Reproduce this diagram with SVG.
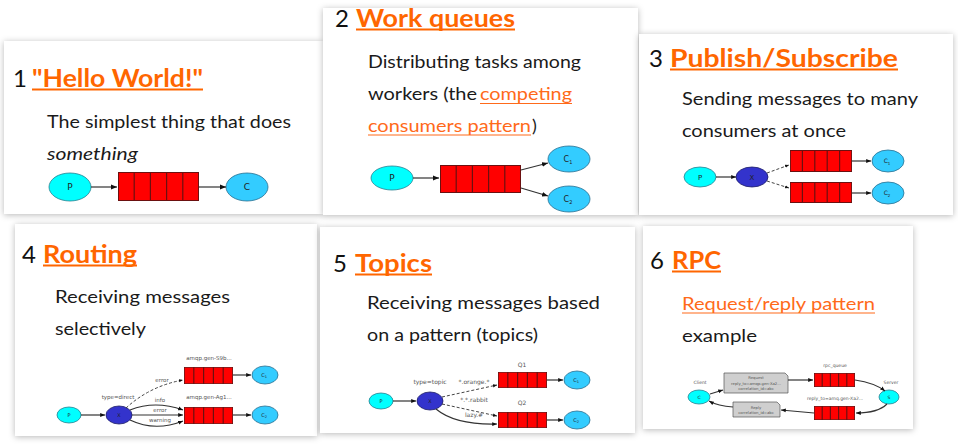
<svg xmlns="http://www.w3.org/2000/svg" width="958" height="448" viewBox="0 0 958 448">
<style>
.card{fill:#fff}
.num{font-family:Lato,"Open Sans",sans-serif;font-size:24px;fill:#111}
.title{font-family:Lato,"Open Sans",sans-serif;font-size:25px;font-weight:bold;fill:#ff6600}
.ul{fill:#ff6600}
.body{font-family:Lato,"Open Sans",sans-serif;font-size:18px;fill:#1a1a1a}
.link{fill:#ff6a1a}
.nl{font-family:"DejaVu Sans",sans-serif;fill:#222;text-anchor:middle}
.tiny{font-family:"DejaVu Sans",sans-serif;fill:#555;text-anchor:middle}
.p{fill:#00ffff;stroke:#2a7f8f;stroke-width:0.8}
.c{fill:#33ccff;stroke:#2a6f8f;stroke-width:0.8}
.x{fill:#3333cc;stroke:#1a1a66;stroke-width:0.8}
.e{fill:none;stroke:#333;stroke-width:1.2}
.d{fill:none;stroke:#444;stroke-width:1;stroke-dasharray:3 2}
.msg{fill:#cfcfcf;stroke:#555;stroke-width:0.7}
</style>
<defs>
<filter id="sh" x="-5%" y="-5%" width="110%" height="115%">
<feDropShadow dx="0" dy="1" stdDeviation="3" flood-color="#000" flood-opacity="0.28"/>
</filter>
<marker id="ar" viewBox="0 0 10 10" refX="10" refY="5" markerWidth="5" markerHeight="5" orient="auto">
<path d="M0,1 L10,5 L0,9 z" fill="#111"/>
</marker>
<marker id="ars" viewBox="0 0 10 10" refX="10" refY="5" markerWidth="4" markerHeight="4" orient="auto">
<path d="M0,1 L10,5 L0,9 z" fill="#111"/>
</marker>
<symbol id="q" viewBox="0 0 100 35" preserveAspectRatio="none">
<rect x="0.5" y="0.5" width="99" height="34" fill="#ff0000" stroke="#6b1010" stroke-width="1.2" vector-effect="non-scaling-stroke"/>
<path d="M20,0V35M40,0V35M60,0V35M80,0V35" stroke="#6b1010" stroke-width="1.2" vector-effect="non-scaling-stroke"/>
</symbol>
</defs>
<rect width="958" height="448" fill="#fff"/>

<!-- Card 1 -->
<g id="card1">
<rect class="card" x="4" y="41" width="319" height="173" filter="url(#sh)"/>
<text class="num" x="13" y="87">1</text>
<text class="title" x="32" y="87" textLength="171" lengthAdjust="spacingAndGlyphs">"Hello World!"</text>
<rect class="ul" x="32" y="88.5" width="171" height="2"/>
<text class="body" x="47" y="128" textLength="244" lengthAdjust="spacingAndGlyphs">The simplest thing that does</text>
<text class="body" x="47" y="160" font-style="italic" textLength="91" lengthAdjust="spacingAndGlyphs">something</text>
</g>
<g id="c1-P"><ellipse class="p" cx="70" cy="187" rx="21" ry="14"/><text class="nl" x="70" y="190" font-size="9">P</text></g>
<g id="c1-Q"><use href="#q" x="118" y="172" width="81" height="29"/></g>
<g id="c1-C"><ellipse class="c" cx="247" cy="187" rx="21" ry="14"/><text class="nl" x="247" y="190" font-size="9">C</text></g>

<!-- Card 2 -->
<g id="card2">
<rect class="card" x="323" y="8" width="315" height="207" filter="url(#sh)"/>
<text class="num" x="335" y="27">2</text>
<text class="title" x="356" y="27" textLength="159" lengthAdjust="spacingAndGlyphs">Work queues</text>
<rect class="ul" x="356" y="28.5" width="159" height="2"/>
<text class="body" x="368" y="68" textLength="213" lengthAdjust="spacingAndGlyphs">Distributing tasks among</text>
<text class="body" x="368" y="100" textLength="109" lengthAdjust="spacingAndGlyphs">workers (the</text>
<text class="body link" x="480" y="100" textLength="92" lengthAdjust="spacingAndGlyphs">competing</text>
<rect class="link" x="480" y="103" width="92" height="1"/>
<text class="body link" x="368" y="132" textLength="163" lengthAdjust="spacingAndGlyphs">consumers pattern</text>
<rect class="link" x="368" y="134.5" width="163" height="1"/>
<text class="body" x="532" y="132">)</text>
</g>
<g id="c2-P"><ellipse class="p" cx="392" cy="178" rx="21" ry="12"/><text class="nl" x="392" y="181" font-size="9">P</text></g>
<g id="c2-Q"><use href="#q" x="440" y="165" width="81" height="28"/></g>
<g id="c2-C1"><ellipse class="c" cx="569" cy="159" rx="21" ry="13"/><text class="nl" x="568" y="162" font-size="8">C<tspan font-size="5" dy="2">1</tspan></text></g>
<g id="c2-C2"><ellipse class="c" cx="569" cy="199" rx="21" ry="13"/><text class="nl" x="568" y="202" font-size="8">C<tspan font-size="5" dy="2">2</tspan></text></g>

<!-- Card 3 -->
<g id="card3">
<rect class="card" x="639" y="34" width="314" height="181" filter="url(#sh)"/>
<text class="num" x="649" y="67">3</text>
<text class="title" x="670" y="67" textLength="228" lengthAdjust="spacingAndGlyphs">Publish/Subscribe</text>
<rect class="ul" x="670" y="68.5" width="228" height="2"/>
<text class="body" x="682" y="105" textLength="236" lengthAdjust="spacingAndGlyphs">Sending messages to many</text>
<text class="body" x="682" y="137" textLength="164" lengthAdjust="spacingAndGlyphs">consumers at once</text>
</g>
<g id="c3-P"><ellipse class="p" cx="700" cy="177" rx="16" ry="10"/><text class="nl" x="700" y="180" font-size="7">P</text></g>
<g id="c3-X"><ellipse class="x" cx="752" cy="177" rx="16" ry="10"/><text class="nl" x="752" y="180" font-size="7">X</text></g>
<g id="c3-Q1"><use href="#q" x="790" y="150" width="62" height="22"/></g>
<g id="c3-Q2"><use href="#q" x="790" y="182" width="62" height="21"/></g>
<g id="c3-C1"><ellipse class="c" cx="888" cy="161" rx="16" ry="11"/><text class="nl" x="887" y="163" font-size="6">C<tspan font-size="4" dy="1.5">1</tspan></text></g>
<g id="c3-C2"><ellipse class="c" cx="888" cy="193" rx="16" ry="11"/><text class="nl" x="887" y="195" font-size="6">C<tspan font-size="4" dy="1.5">2</tspan></text></g>

<!-- Card 4 -->
<g id="card4">
<rect class="card" x="15" y="224" width="302" height="212" filter="url(#sh)"/>
<text class="num" x="22" y="263">4</text>
<text class="title" x="43" y="263" textLength="94" lengthAdjust="spacingAndGlyphs">Routing</text>
<rect class="ul" x="43" y="264.5" width="94" height="2"/>
<text class="body" x="55" y="303" textLength="175" lengthAdjust="spacingAndGlyphs">Receiving messages</text>
<text class="body" x="55" y="335" textLength="91" lengthAdjust="spacingAndGlyphs">selectively</text>
<text class="tiny" x="209" y="360" font-size="5.5">amqp.gen-S9b...</text>
<text class="tiny" x="209" y="399" font-size="5.5">amqp.gen-Ag1...</text>
<text class="tiny" x="118" y="399" font-size="5.5">type=direct</text>
<text class="tiny" x="162" y="382" font-size="5.5">error</text>
<text class="tiny" x="160" y="402" font-size="5.5">info</text>
<text class="tiny" x="160" y="412" font-size="5.5">error</text>
<text class="tiny" x="160" y="422" font-size="5.5">warning</text>
</g>
<g id="c4-P"><ellipse class="p" cx="69" cy="415" rx="12" ry="8"/><text class="nl" x="69" y="417" font-size="5">P</text></g>
<g id="c4-X"><ellipse class="x" cx="119" cy="415" rx="13" ry="9"/><text class="nl" x="119" y="417" font-size="5">X</text></g>
<g id="c4-Q1"><use href="#q" x="184" y="367" width="49" height="17"/></g>
<g id="c4-Q2"><use href="#q" x="184" y="407" width="49" height="17"/></g>
<g id="c4-C1"><ellipse class="c" cx="265" cy="375" rx="13" ry="9"/><text class="nl" x="264" y="377" font-size="5">C<tspan font-size="3.5" dy="1">1</tspan></text></g>
<g id="c4-C2"><ellipse class="c" cx="265" cy="415" rx="13" ry="9"/><text class="nl" x="264" y="417" font-size="5">C<tspan font-size="3.5" dy="1">2</tspan></text></g>

<!-- Card 5 -->
<g id="card5">
<rect class="card" x="320" y="227" width="315" height="206" filter="url(#sh)"/>
<text class="num" x="333" y="272">5</text>
<text class="title" x="355" y="272" textLength="77" lengthAdjust="spacingAndGlyphs">Topics</text>
<rect class="ul" x="355" y="273.5" width="77" height="2"/>
<text class="body" x="367" y="309" textLength="233" lengthAdjust="spacingAndGlyphs">Receiving messages based</text>
<text class="body" x="367" y="341" textLength="171" lengthAdjust="spacingAndGlyphs">on a pattern (topics)</text>
<text class="tiny" x="522" y="367" font-size="6">Q1</text>
<text class="tiny" x="522" y="405" font-size="6">Q2</text>
<text class="tiny" x="430" y="384" font-size="6">type=topic</text>
<text class="tiny" x="474" y="384" font-size="6">*.orange.*</text>
<text class="tiny" x="474" y="402" font-size="6">*.*.rabbit</text>
<text class="tiny" x="474" y="417" font-size="6">lazy.#</text>
</g>
<g id="c5-P"><ellipse class="p" cx="381" cy="401" rx="12" ry="8"/><text class="nl" x="381" y="403" font-size="5">P</text></g>
<g id="c5-X"><ellipse class="x" cx="430" cy="401" rx="13" ry="9"/><text class="nl" x="430" y="403" font-size="5">X</text></g>
<g id="c5-Q1"><use href="#q" x="498" y="372" width="49" height="16"/></g>
<g id="c5-Q2"><use href="#q" x="498" y="412" width="49" height="16"/></g>
<g id="c5-C1"><ellipse class="c" cx="577" cy="380" rx="13" ry="9"/><text class="nl" x="576" y="382" font-size="5">C<tspan font-size="3.5" dy="1">1</tspan></text></g>
<g id="c5-C2"><ellipse class="c" cx="577" cy="420" rx="13" ry="9"/><text class="nl" x="576" y="422" font-size="5">C<tspan font-size="3.5" dy="1">2</tspan></text></g>

<!-- Card 6 -->
<g id="card6">
<rect class="card" x="643" y="226" width="270" height="203" filter="url(#sh)"/>
<text class="num" x="650" y="269">6</text>
<text class="title" x="672" y="269" textLength="49" lengthAdjust="spacingAndGlyphs">RPC</text>
<rect class="ul" x="672" y="270.5" width="49" height="2"/>
<text class="body link" x="682" y="310" textLength="193" lengthAdjust="spacingAndGlyphs">Request/reply pattern</text>
<rect class="link" x="682" y="312.5" width="193" height="1"/>
<text class="body" x="682" y="342" textLength="75" lengthAdjust="spacingAndGlyphs">example</text>
<text class="tiny" x="700" y="384" font-size="4.5">Client</text>
<text class="tiny" x="891" y="384" font-size="4.5">Server</text>
<text class="tiny" x="835" y="367" font-size="4.5">rpc_queue</text>
<text class="tiny" x="835" y="400" font-size="4.5">reply_to=amq.gen-Xa2...</text>
</g>
<g id="c6-C"><ellipse class="p" cx="699" cy="397" rx="11" ry="7"/><text class="nl" x="699" y="399" font-size="4.5">C</text></g>
<g id="c6-S"><ellipse class="p" cx="889" cy="397" rx="10" ry="7"/><text class="nl" x="889" y="399" font-size="4.5">S</text></g>
<g id="c6-req"><path class="msg" d="M724,373 H785 L788,376 V393 H724 Z"/><text class="tiny" x="756" y="379" font-size="3.8" fill="#333">Request</text><text class="tiny" x="756" y="384.5" font-size="3.8" fill="#333">reply_to=amqp.gen-Xa2...</text><text class="tiny" x="756" y="390" font-size="3.8" fill="#333">correlation_id=abc</text></g>
<g id="c6-rep"><path class="msg" d="M733,402 H777 L780,405 V417 H733 Z"/><text class="tiny" x="756" y="408.5" font-size="3.8" fill="#333">Reply</text><text class="tiny" x="756" y="414" font-size="3.8" fill="#333">correlation_id=abc</text></g>
<g id="c6-Q1"><use href="#q" x="814" y="373" width="41" height="14"/></g>
<g id="c6-Q2"><use href="#q" x="814" y="406" width="41" height="14"/></g>

<!-- Connectors -->
<g id="connectors">
<line class="e" x1="91" y1="187" x2="117" y2="187" marker-end="url(#ar)"/>
<line class="e" x1="199" y1="187" x2="226" y2="187" marker-end="url(#ar)"/>

<line class="e" x1="413" y1="178" x2="439" y2="178" marker-end="url(#ar)"/>
<line class="e" x1="521" y1="170" x2="548" y2="163" marker-end="url(#ar)"/>
<line class="e" x1="521" y1="188" x2="548" y2="196" marker-end="url(#ar)"/>

<line class="e" x1="716" y1="177" x2="736" y2="177" marker-end="url(#ars)"/>
<line class="d" x1="767" y1="173" x2="789" y2="165" marker-end="url(#ars)"/>
<line class="d" x1="767" y1="181" x2="789" y2="188" marker-end="url(#ars)"/>
<line class="e" x1="852" y1="161" x2="871" y2="161" marker-end="url(#ars)"/>
<line class="e" x1="852" y1="193" x2="871" y2="193" marker-end="url(#ars)"/>

<line class="e" x1="81" y1="415" x2="105" y2="415" stroke-width="0.9" marker-end="url(#ars)"/>
<path class="d" d="M126,408 Q150,386 183,380" stroke-width="0.7" marker-end="url(#ars)"/>
<path class="e" d="M130,410 Q155,400 183,410" stroke-width="0.7" marker-end="url(#ars)"/>
<path class="e" d="M132,415 L183,415" stroke-width="0.7" marker-end="url(#ars)"/>
<path class="e" d="M130,420 Q155,432 183,421" stroke-width="0.7" marker-end="url(#ars)"/>
<line class="e" x1="233" y1="375" x2="251" y2="375" stroke-width="0.9" marker-end="url(#ars)"/>
<line class="e" x1="233" y1="415" x2="251" y2="415" stroke-width="0.9" marker-end="url(#ars)"/>

<line class="e" x1="393" y1="401" x2="416" y2="401" stroke-width="0.9" marker-end="url(#ars)"/>
<line class="d" x1="442" y1="397" x2="497" y2="385" stroke-width="0.8" marker-end="url(#ars)"/>
<line class="d" x1="442" y1="404" x2="497" y2="416" stroke-width="0.8" marker-end="url(#ars)"/>
<path class="e" d="M436,409 Q455,425 497,424" stroke-width="0.8" marker-end="url(#ars)"/>
<line class="e" x1="547" y1="380" x2="563" y2="380" stroke-width="0.9" marker-end="url(#ars)"/>
<line class="e" x1="547" y1="420" x2="563" y2="420" stroke-width="0.9" marker-end="url(#ars)"/>

<line class="e" x1="710" y1="394" x2="723" y2="390" stroke-width="0.6" marker-end="url(#ars)"/>
<line class="e" x1="788" y1="380" x2="813" y2="380" stroke-width="0.6" marker-end="url(#ars)"/>
<path class="e" d="M855,380 Q875,383 885,391" stroke-width="0.6" marker-end="url(#ars)"/>
<path class="e" d="M887,404 Q878,413 856,413" stroke-width="0.6" marker-end="url(#ars)"/>
<line class="e" x1="814" y1="413" x2="781" y2="410" stroke-width="0.6" marker-end="url(#ars)"/>
<path class="e" d="M733,407 Q718,406 709,401" stroke-width="0.6" marker-end="url(#ars)"/>
</g>
</svg>
